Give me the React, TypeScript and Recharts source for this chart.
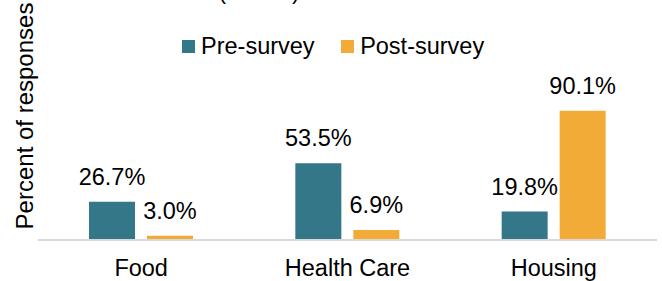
import {
  BarChart,
  Bar,
  XAxis,
  YAxis,
  Legend,
  LabelList,
  Customized,
} from "recharts";

const categories = ["Food", "Health Care", "Housing"];
const preSurvey = [26.7, 53.5, 19.8];
const postSurvey = [3.0, 6.9, 90.1];
const seriesNames = ["Pre-survey", "Post-survey"];

const FONT = "'Liberation Sans', Arial, Helvetica, sans-serif";
const COLORS = ["#337788", "#F2AB36"];

const data = categories.map((name, i) => ({
  name,
  pre: preSurvey[i],
  post: postSurvey[i],
}));

const fmt = (v: any) => `${Number(v).toFixed(1)}%`;

function LegendContent({ payload }: any) {
  // keep series order, not alphabetical
  const items = [...(payload || [])].sort(
    (a: any, b: any) => seriesNames.indexOf(a.value) - seriesNames.indexOf(b.value)
  );
  return (
    <div
      style={{
        display: "flex",
        alignItems: "center",
        fontFamily: FONT,
        fontSize: 23.5,
        lineHeight: "27px",
        color: "#000",
        whiteSpace: "nowrap",
      }}
    >
      {items.map((entry: any, i: number) => (
        <div
          key={i}
          style={{ display: "flex", alignItems: "center", marginRight: i === 0 ? 26.5 : 0 }}
        >
          <span
            style={{
              display: "inline-block",
              width: 12.5,
              height: 12.5,
              background: entry.color,
              marginRight: 6.5,
            }}
          />
          <span>{entry.value}</span>
        </div>
      ))}
    </div>
  );
}

// title is cut off by the frame, only the bottom of its brackets shows
const Extras = () => (
  <g fontFamily={FONT} fill="#000">
    <text x={259} y={-1} fontSize={23.5} textAnchor="middle">
      (n=101)
    </text>
    <text
      transform="translate(33,116) rotate(-90)"
      fontSize={24}
      textAnchor="middle"
    >
      Percent of responses
    </text>
  </g>
);

export default function App() {
  return (
    <div
      style={{
        position: "absolute",
        left: 0,
        top: 0,
        width: 662,
        height: 281,
        background: "#fff",
      }}
    >
      <BarChart
        width={662}
        height={281}
        data={data}
        margin={{ top: 96.5, right: 5, bottom: 0, left: 38 }}
        barGap={12}
        barSize={46}
      >
        <XAxis
          dataKey="name"
          height={41}
          interval={0}
          axisLine={{ stroke: "#d9d9d9", strokeWidth: 2 }}
          tickLine={false}
          tickSize={0}
          tickMargin={19}
          tick={{ fill: "#000", fontSize: 23.5, fontFamily: FONT }}
        />
        <YAxis hide domain={[0, 100]} />
        <Legend
          layout="horizontal"
          verticalAlign="middle"
          align="center"
          content={<LegendContent />}
          wrapperStyle={{ top: 33, left: 182, width: "auto" }}
        />
        <Bar dataKey="pre" name={seriesNames[0]} fill={COLORS[0]} isAnimationActive={false}>
          <LabelList
            dataKey="pre"
            position="top"
            offset={17}
            formatter={fmt}
            fill="#000"
            fontSize={23.5}
            fontFamily={FONT}
          />
        </Bar>
        <Bar dataKey="post" name={seriesNames[1]} fill={COLORS[1]} isAnimationActive={false}>
          <LabelList
            dataKey="post"
            position="top"
            offset={17}
            formatter={fmt}
            fill="#000"
            fontSize={23.5}
            fontFamily={FONT}
          />
        </Bar>
        <Customized component={Extras} />
      </BarChart>
    </div>
  );
}
